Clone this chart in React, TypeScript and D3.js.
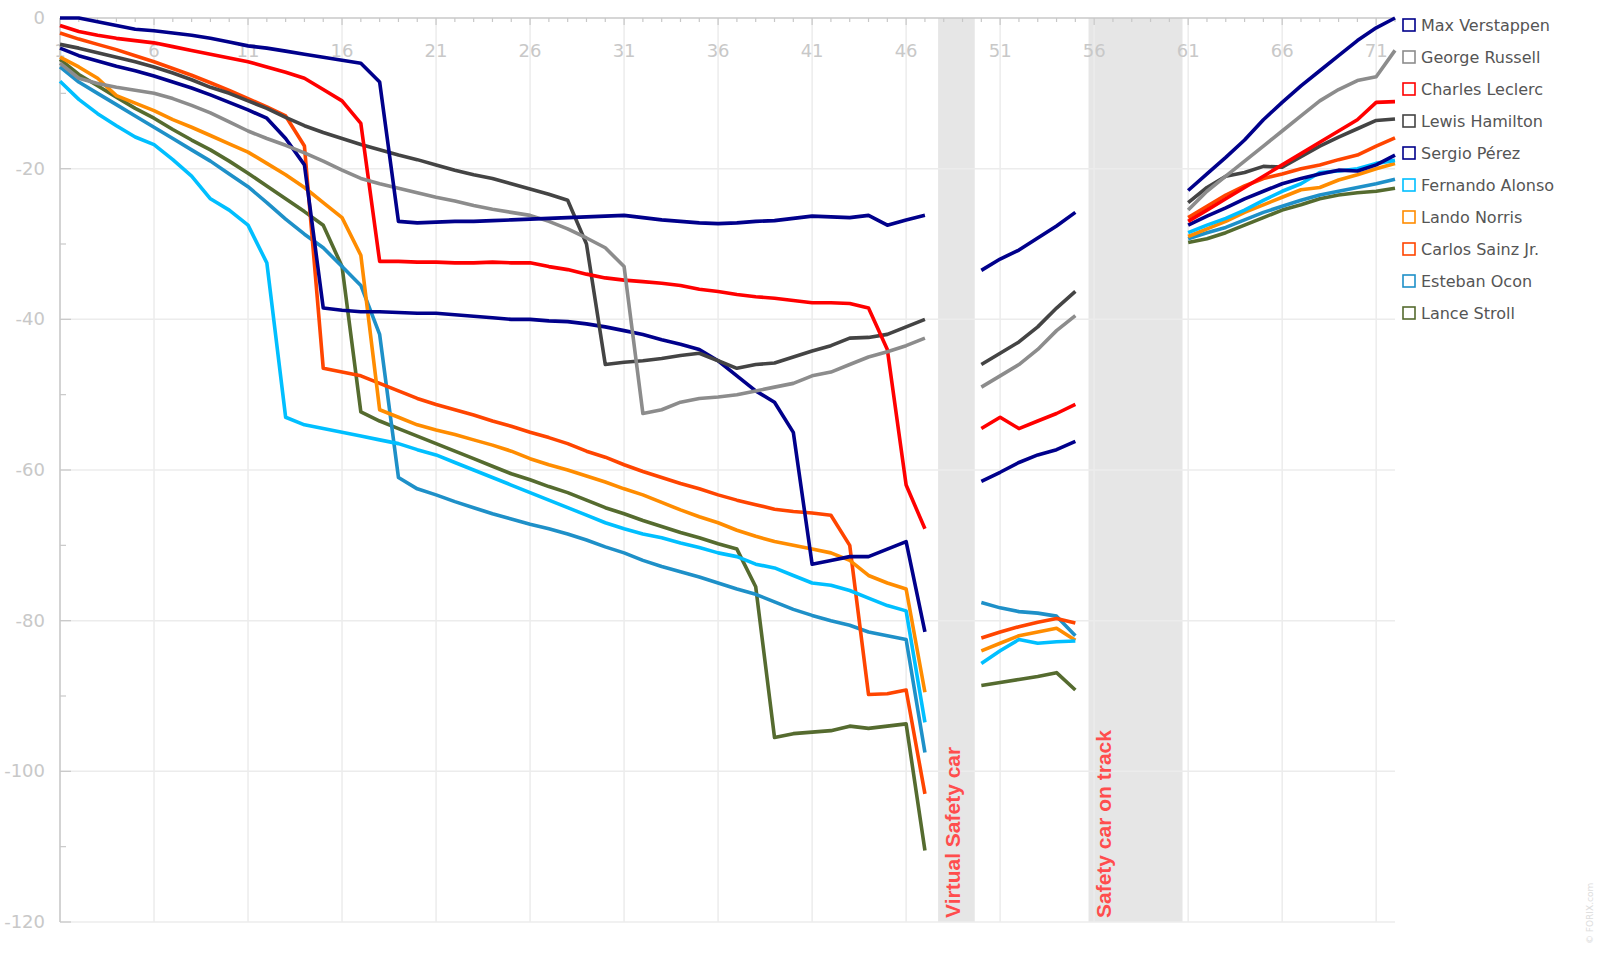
import React from "react";
import * as d3 from "d3";

const seg1Laps = d3.range(1, 48);
const seg2Laps = [50, 51, 52, 53, 54, 55];
const seg3Laps = d3.range(61, 73);

const drivers = ["Max Verstappen","George Russell","Charles Leclerc","Lewis Hamilton","Sergio Pérez","Fernando Alonso","Lando Norris","Carlos Sainz Jr.","Esteban Ocon","Lance Stroll"];
const colors = ["#00008b","#8c8c8c","#ff0000","#444444","#00008b","#00bfff","#ff8c00","#ff4500","#1e90c8","#556b2f"];

const s1: number[][] = [
  [0,0,-0.5,-1,-1.5,-1.7,-2,-2.3,-2.7,-3.2,-3.7,-4,-4.4,-4.8,-5.2,-5.6,-6,-8.5,-27,-27.2,-27.1,-27,-27,-26.9,-26.8,-26.7,-26.6,-26.5,-26.4,-26.3,-26.2,-26.5,-26.8,-27,-27.2,-27.3,-27.2,-27,-26.9,-26.6,-26.3,-26.4,-26.5,-26.2,-27.5,-26.8,-26.2],
  [-6,-8,-8.7,-9.2,-9.6,-10,-10.7,-11.6,-12.6,-13.8,-15,-16,-16.9,-17.9,-19,-20.2,-21.3,-22,-22.6,-23.2,-23.8,-24.3,-24.9,-25.4,-25.8,-26.2,-27,-28,-29.2,-30.5,-33,-52.5,-52,-51,-50.5,-50.3,-50,-49.5,-49,-48.5,-47.5,-47,-46,-45,-44.3,-43.5,-42.5],
  [-1,-1.8,-2.3,-2.7,-3,-3.3,-3.8,-4.3,-4.8,-5.3,-5.8,-6.5,-7.2,-8,-9.5,-11,-14,-32.3,-32.3,-32.4,-32.4,-32.5,-32.5,-32.4,-32.5,-32.5,-33,-33.4,-34,-34.5,-34.8,-35,-35.2,-35.5,-36,-36.3,-36.7,-37,-37.2,-37.5,-37.8,-37.8,-37.9,-38.5,-44,-62,-67.8],
  [-3.5,-4,-4.6,-5.2,-5.8,-6.5,-7.3,-8.2,-9.2,-10,-11,-12,-13.2,-14.3,-15.2,-16,-16.8,-17.5,-18.2,-18.8,-19.5,-20.2,-20.8,-21.3,-22,-22.7,-23.4,-24.2,-30,-46,-45.7,-45.5,-45.2,-44.8,-44.5,-45.5,-46.5,-46,-45.8,-45,-44.2,-43.5,-42.5,-42.4,-42,-41,-40],
  [-4,-5,-5.7,-6.4,-7,-7.7,-8.5,-9.3,-10.2,-11.2,-12.2,-13.3,-16,-19.5,-38.5,-38.8,-39,-39,-39.1,-39.2,-39.2,-39.4,-39.6,-39.8,-40,-40,-40.2,-40.3,-40.6,-41,-41.5,-42,-42.7,-43.3,-44,-45.5,-47.5,-49.5,-51,-55,-72.5,-72,-71.5,-71.5,-70.5,-69.5,-81.5],
  [-8.4,-10.8,-12.7,-14.3,-15.8,-16.8,-18.8,-21,-24,-25.5,-27.5,-32.5,-53,-54,-54.5,-55,-55.5,-56,-56.5,-57.3,-58,-59,-60,-61,-62,-63,-64,-65,-66,-67,-67.8,-68.5,-69,-69.7,-70.3,-71,-71.5,-72.5,-73,-74,-75,-75.3,-76,-77,-78,-78.7,-93.5],
  [-5.2,-6.5,-8,-10.3,-11.3,-12.3,-13.5,-14.5,-15.6,-16.7,-17.8,-19.3,-20.8,-22.5,-24.5,-26.5,-31.5,-52,-53,-54,-54.7,-55.3,-56,-56.7,-57.5,-58.5,-59.3,-60,-60.8,-61.6,-62.5,-63.3,-64.3,-65.3,-66.2,-67,-68,-68.8,-69.5,-70,-70.5,-71,-72,-74,-75,-75.8,-89.5],
  [-2,-2.8,-3.5,-4.2,-5,-5.8,-6.7,-7.6,-8.6,-9.6,-10.7,-11.8,-13,-17,-46.5,-47,-47.5,-48.5,-49.5,-50.5,-51.3,-52,-52.7,-53.5,-54.2,-55,-55.7,-56.5,-57.5,-58.3,-59.3,-60.2,-61,-61.8,-62.5,-63.3,-64,-64.6,-65.2,-65.5,-65.7,-66,-70,-89.8,-89.7,-89.2,-103],
  [-6.5,-8.5,-10,-11.5,-13,-14.5,-16,-17.5,-19,-20.7,-22.4,-24.5,-26.7,-28.7,-30.5,-33,-35.5,-42,-61,-62.5,-63.3,-64.2,-65,-65.8,-66.5,-67.2,-67.8,-68.5,-69.3,-70.2,-71,-72,-72.8,-73.5,-74.2,-75,-75.8,-76.5,-77.5,-78.5,-79.3,-80,-80.6,-81.5,-82,-82.5,-97.5],
  [-5.5,-7.5,-9,-10.5,-12,-13.3,-14.8,-16.2,-17.5,-19,-20.6,-22.3,-24,-25.7,-27.5,-33,-52.3,-53.5,-54.5,-55.5,-56.5,-57.5,-58.5,-59.5,-60.5,-61.3,-62.2,-63,-64,-65,-65.8,-66.7,-67.5,-68.3,-69,-69.8,-70.5,-75.5,-95.5,-95,-94.8,-94.6,-94,-94.3,-94,-93.7,-110.5],
];
const s2: number[][] = [
  [-33.5,-32,-30.8,-29.2,-27.6,-25.8],
  [-49,-47.5,-46,-44,-41.5,-39.5],
  [-54.5,-53,-54.5,-53.5,-52.5,-51.3],
  [-46,-44.5,-43,-41,-38.5,-36.3],
  [-61.5,-60.3,-59,-58,-57.3,-56.2],
  [-85.7,-84,-82.5,-83,-82.8,-82.7],
  [-84,-83,-82,-81.5,-81,-82.6],
  [-82.3,-81.5,-80.8,-80.2,-79.7,-80.3],
  [-77.6,-78.3,-78.8,-79,-79.4,-82],
  [-88.6,-88.2,-87.8,-87.4,-86.9,-89.2],
];
const s3: number[][] = [
  [-22.9,-20.7,-18.5,-16.2,-13.5,-11.2,-9,-7,-5,-3,-1.3,0],
  [-25.5,-23,-21,-19,-17,-15,-13,-11,-9.5,-8.3,-7.8,-4.3],
  [-27,-25.5,-24,-22.5,-21,-19.5,-18,-16.5,-15,-13.5,-11.2,-11.1],
  [-24.5,-22.5,-21,-20.5,-19.7,-19.8,-18.4,-17,-15.8,-14.7,-13.6,-13.4],
  [-27.5,-26.3,-25.2,-24,-23,-22,-21.3,-20.7,-20.2,-20.3,-19.5,-18.2],
  [-28.5,-27.5,-26.6,-25.5,-24.2,-23,-22,-20.5,-20.3,-20,-19.3,-18.9],
  [-29,-28,-27,-25.8,-24.8,-23.8,-22.8,-22.5,-21.5,-20.8,-20,-19.3],
  [-26.5,-25,-23.5,-22.3,-21.3,-20.7,-20,-19.5,-18.8,-18.2,-17,-15.9],
  [-29.3,-28.5,-27.8,-26.8,-25.8,-25,-24.2,-23.5,-23,-22.5,-22,-21.4],
  [-29.8,-29.3,-28.5,-27.5,-26.5,-25.5,-24.8,-24,-23.5,-23.2,-23,-22.6],
];

const xTickLabels = [1, 6, 11, 16, 21, 26, 31, 36, 41, 46, 51, 56, 61, 66, 71];
const yTickLabels = [0, -20, -40, -60, -80, -100, -120];
const bands = [
  { from: 47.7, to: 49.65, label: "Virtual Safety car" },
  { from: 55.7, to: 60.7, label: "Safety car on track" },
];

export default function App() {
  const W = 1599, H = 964;
  const x = d3.scaleLinear().domain([1, 72]).range([60, 1395]);
  const y = d3.scaleLinear().domain([0, -120]).range([18, 922]);
  const line = d3.line<[number, number]>().x(d => x(d[0])).y(d => y(d[1]));
  const grey = "#c8c8c8";
  const order = [9, 8, 7, 6, 5, 4, 3, 2, 1, 0];
  return (
    <svg width={W} height={H} style={{ position: "absolute", left: 0, top: 0, background: "#fff" }}
      fontFamily="'DejaVu Sans', Verdana, sans-serif">
      {bands.map((b, i) => (
        <rect key={i} x={x(b.from)} y={18} width={x(b.to) - x(b.from)} height={922 - 18} fill="#e6e6e6" />
      ))}
      {xTickLabels.map(t => (
        <line key={"gx" + t} x1={x(t)} x2={x(t)} y1={18} y2={922} stroke="#ececec" strokeWidth={1.5} />
      ))}
      {yTickLabels.filter(t => t !== 0).map(t => (
        <line key={"gy" + t} x1={60} x2={1395} y1={y(t)} y2={y(t)} stroke="#ececec" strokeWidth={1.5} />
      ))}
      <line x1={60} x2={1395} y1={18} y2={18} stroke={grey} strokeWidth={1.5} />
      <line x1={60} x2={60} y1={18} y2={922} stroke={grey} strokeWidth={1.5} />
      {d3.range(1, 73).map(t => (
        <line key={"tx" + t} x1={x(t)} x2={x(t)} y1={18} y2={(t - 1) % 5 === 0 ? 25 : 22} stroke={grey} strokeWidth={1.2} />
      ))}
      {d3.range(0, -121, -10).map(t => (
        <line key={"ty" + t} x1={60} x2={t % 20 === 0 ? 71 : 66} y1={y(t)} y2={y(t)} stroke={grey} strokeWidth={1.2} />
      ))}
      {xTickLabels.map(t => (
        <text key={"lx" + t} x={x(t)} y={57} textAnchor="middle" fontSize={18} fill="#c8c8c8">{t}</text>
      ))}
      {yTickLabels.map(t => (
        <text key={"ly" + t} x={45} y={y(t) + 6} textAnchor="end" fontSize={18} fill="#c8c8c8">{t}</text>
      ))}
      {order.map(i => (
        <g key={"d" + i} fill="none" stroke={colors[i]} strokeWidth={3.6} strokeLinejoin="round">
          <path d={line(seg1Laps.map((l, k) => [l, s1[i][k]]) as [number, number][]) || ""} />
          <path d={line(seg2Laps.map((l, k) => [l, s2[i][k]]) as [number, number][]) || ""} />
          <path d={line(seg3Laps.map((l, k) => [l, s3[i][k]]) as [number, number][]) || ""} />
        </g>
      ))}
      {bands.map((b, i) => {
        const cx = x(b.from) + 22;
        return (
          <text key={"bl" + i} transform={`translate(${cx},918) rotate(-90)`} fontSize={21} fontWeight="bold"
            fill="#ff4d4d" fontFamily="'Liberation Sans', Arial, sans-serif">{b.label}</text>
        );
      })}
      {drivers.map((d, i) => (
        <g key={"lg" + i} transform={`translate(1403,${26 + i * 32})`}>
          <rect x={0} y={-7} width={12} height={12} fill="none" stroke={colors[i]} strokeWidth={1.6} />
          <text x={18} y={5} fontSize={16} fill="#555">{d}</text>
        </g>
      ))}
      <text transform="translate(1593,944) rotate(-90)" fontSize={9} fill="#ddd">© FORIX.com</text>
    </svg>
  );
}
